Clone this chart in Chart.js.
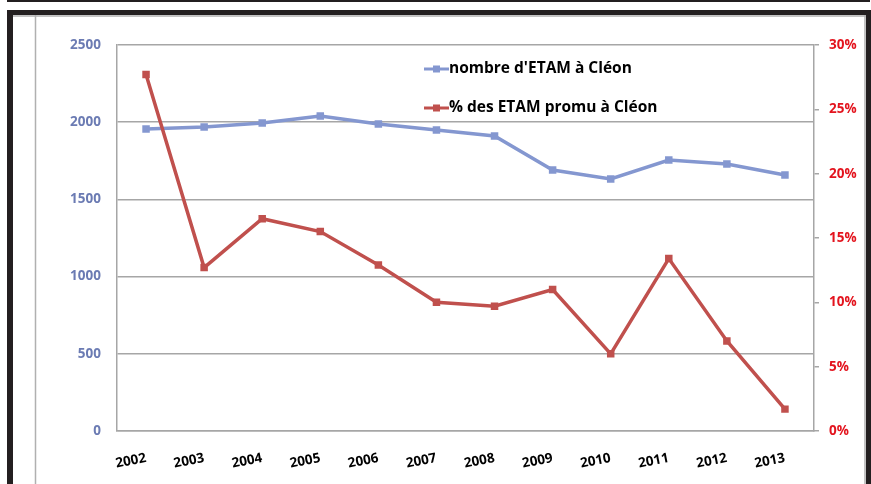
<!DOCTYPE html>
<html>
<head>
<meta charset="utf-8">
<script src="https://cdn.jsdelivr.net/npm/chart.js@4/dist/chart.umd.min.js"></script>
<style>
html,body{margin:0;padding:0;background:#fff;}
#wrap{position:relative;width:871px;height:484px;}
</style>
</head>
<body>
<div id="wrap"><canvas id="c" width="871" height="484"></canvas></div>
<script>
const years = ['2002','2003','2004','2005','2006','2007','2008','2009','2010','2011','2012','2013'];
const nombreETAM = [1956, 1969, 1995, 2040, 1988, 1950, 1911, 1690, 1632, 1755, 1729, 1658];
const pctPromu = [27.7, 12.7, 16.5, 15.5, 12.9, 10.0, 9.7, 11.0, 6.0, 13.4, 7.0, 1.7];
const leftTicks = [0, 500, 1000, 1500, 2000, 2500];
const rightTicks = [0, 5, 10, 15, 20, 25, 30];
const seriesNames = ["nombre d'ETAM à Cléon", "% des ETAM promu à Cléon"];

const BLUE = '#8497d0';
const RED = '#c0504d';
const FONT = "'Open Sans', sans-serif";

const framePlugin = {
  id: 'frame',
  beforeDraw(chart) {
    const ctx = chart.ctx;
    ctx.save();
    ctx.fillStyle = '#fff';
    ctx.fillRect(0, 0, 871, 484);
    ctx.fillStyle = '#231f20';
    ctx.fillRect(7, 0, 863, 2);
    ctx.fillRect(7, 10, 864, 5);
    ctx.fillRect(7, 10, 6, 474);
    ctx.fillRect(866, 10, 5, 474);
    ctx.strokeStyle = '#b0b0b0';
    ctx.lineWidth = 1.5;
    ctx.beginPath();
    ctx.moveTo(35.5, 15); ctx.lineTo(35.5, 484);
    ctx.moveTo(13, 16); ctx.lineTo(866, 16);
    ctx.moveTo(865, 15); ctx.lineTo(865, 484);
    ctx.stroke();
    ctx.restore();
  },
  afterDraw(chart) {
    const ctx = chart.ctx;
    ctx.save();
    const items = [
      {y: 69, color: BLUE, text: seriesNames[0]},
      {y: 108, color: RED, text: seriesNames[1]}
    ];
    items.forEach(it => {
      ctx.strokeStyle = it.color;
      ctx.lineWidth = 3;
      ctx.beginPath();
      ctx.moveTo(424, it.y); ctx.lineTo(449, it.y);
      ctx.stroke();
      ctx.fillStyle = it.color;
      ctx.fillRect(433, it.y - 3.5, 7, 7);
      ctx.fillStyle = '#000';
      ctx.font = "bold 15.5px " + FONT;
      ctx.textBaseline = 'middle';
      ctx.textAlign = 'left';
      ctx.fillText(it.text, 449, it.y);
    });
    ctx.restore();
  }
};

new Chart(document.getElementById('c'), {
  type: 'line',
  data: {
    labels: years,
    datasets: [
      {
        label: seriesNames[0], data: nombreETAM, yAxisID: 'y',
        borderColor: BLUE, backgroundColor: BLUE, borderWidth: 3.5,
        pointStyle: 'rect', pointRadius: 5.3, pointBorderWidth: 0,
        tension: 0, order: 2
      },
      {
        label: seriesNames[1], data: pctPromu, yAxisID: 'y1',
        borderColor: RED, backgroundColor: RED, borderWidth: 3.5,
        pointStyle: 'rect', pointRadius: 5.3, pointBorderWidth: 0,
        tension: 0, order: 1
      }
    ]
  },
  options: {
    responsive: false,
    animation: false,
    layout: {padding: {top: 45, left: 0, right: 0, bottom: 0}},
    plugins: {legend: {display: false}, tooltip: {enabled: false}},
    scales: {
      x: {
        offset: true,
        grid: {display: false, drawTicks: false},
        border: {display: true, color: '#a6a6a6', width: 1.5},
        ticks: {
          color: '#000', font: {family: FONT, weight: 'bold', size: 13.5},
          minRotation: 11, maxRotation: 11, padding: 19, autoSkip: false
        },
        afterFit(s) { s.height = 53; }
      },
      y: {
        position: 'left', min: 0, max: 2500,
        afterBuildTicks(s) { s.ticks = leftTicks.map(v => ({value: v})); },
        grid: {color: '#a6a6a6', lineWidth: 1.5, drawTicks: false},
        border: {display: true, color: '#a6a6a6', width: 1.5},
        ticks: {color: '#6b7bb3', font: {family: FONT, weight: 'bold', size: 13.5}, padding: 16,
          callback: v => String(v)},
        afterFit(s) { s.width = 117; }
      },
      y1: {
        position: 'right', min: 0, max: 30,
        afterBuildTicks(s) { s.ticks = rightTicks.map(v => ({value: v})); },
        grid: {drawOnChartArea: false, color: '#a6a6a6', lineWidth: 1.5, tickLength: 5},
        border: {display: true, color: '#a6a6a6', width: 1.5},
        ticks: {color: '#e3141e', font: {family: FONT, weight: 'bold', size: 13.5}, padding: 10,
          callback: v => v + '%'},
        afterFit(s) { s.width = 57; }
      }
    }
  },
  plugins: [framePlugin]
});
</script>
</body>
</html>
